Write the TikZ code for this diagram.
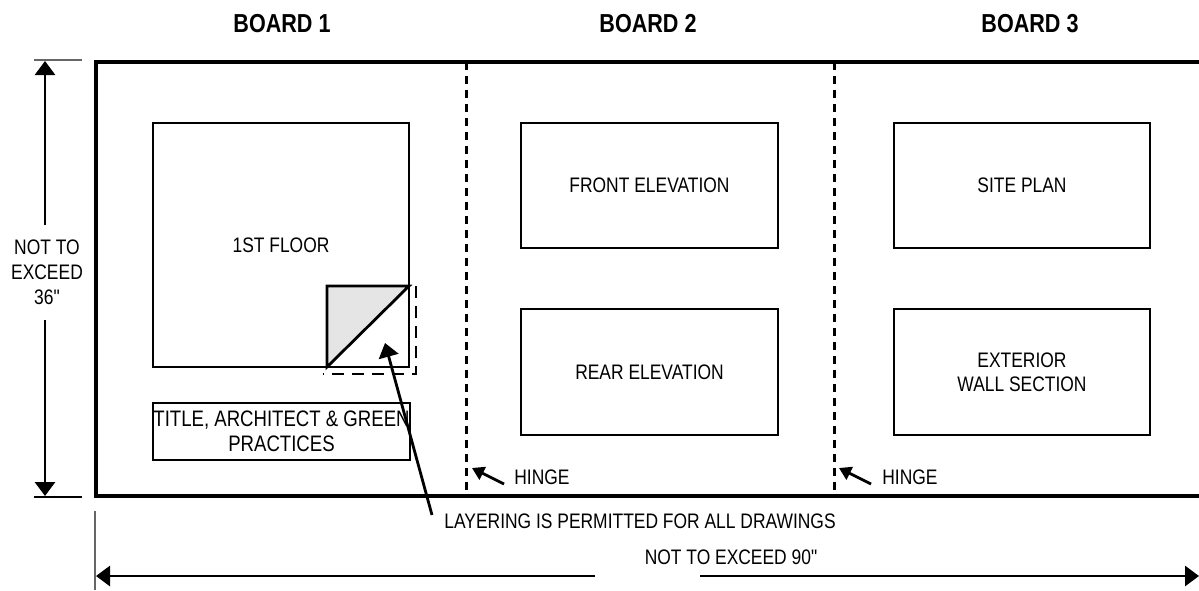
\documentclass[tikz,border=0pt]{standalone}
\usepackage{fontspec}
\setmainfont[FakeStretch=0.83,Ligatures=TeXOff]{Liberation Sans}
\usepackage{tikz}
\usetikzlibrary{arrows.meta}
\tikzset{>={Triangle[width=10pt,length=7pt]}}
\tikzset{
	panel/.style={draw,line width=1.4pt,inner sep=0pt,align=center,font=\fontsize{10.5}{12}\selectfont},
	txt/.style={inner sep=0pt,align=center,font=\fontsize{10.5}{12}\selectfont},
	head/.style={inner sep=0pt,font=\fontsize{13}{15}\selectfont\bfseries},
	hingeline/.style={line width=1.5pt,dash pattern=on 4pt off 3pt},
	smallarrow/.style={line width=1.4pt,-{Triangle[width=7pt,length=6pt]}}
}

\begin{document}
\begin{tikzpicture}[line join=miter,x=0.5pt,y=-0.5pt]
	\useasboundingbox (0,0) rectangle (1199,590);
	% board headings
	\node[head] (b1) at (282,24) {BOARD 1};
	\node[head] (b2) at (648,24) {BOARD 2};
	\node[head] (b3) at (1030,24) {BOARD 3};
	% outer board
	\draw[line width=1.6pt] (1199,62) -- (96,62) -- (96,496) -- (1199,496);
	\draw[hingeline] (466,62) -- (466,496);
	\draw[hingeline] (834,62) -- (834,496);
	% drawings
	\node[panel,minimum width=128pt,minimum height=122pt] (floor) at (281,245) {1ST FLOOR};
	\node[panel,minimum width=128.5pt,minimum height=28.5pt,font=\fontsize{11.2}{12.5}\selectfont] (title) at (281.5,431.5) {TITLE, ARCHITECT \& GREEN\\PRACTICES};
	\node[panel,minimum width=128.5pt,minimum height=62.5pt] (front) at (649.5,185.5) {FRONT ELEVATION};
	\node[panel,minimum width=128.5pt,minimum height=63pt] (rear) at (649.5,372) {REAR ELEVATION};
	\node[panel,minimum width=128pt,minimum height=62.5pt] (site) at (1022,185.5) {SITE PLAN};
	\node[panel,minimum width=128pt,minimum height=63pt] (wall) at (1022,372) {EXTERIOR\\WALL SECTION};
	% layered sheet
	\fill[black!10] (327,286) -- (409,286) -- (327,367) -- cycle;
	\draw[line width=1.4pt] (327,367) -- (327,286) -- (409,286) -- cycle;
	\draw[line width=1.4pt,dash pattern=on 6pt off 4pt] (416,286) -- (416,374) -- (323,374);
	% notes
	\node[txt,anchor=west] (layering) at (444,521) {LAYERING IS PERMITTED FOR ALL DRAWINGS};
	\coordinate (lay tip) at (385,343);
	\coordinate (lay tail) at (432,515);
	\draw[line width=1.4pt,->] (lay tail) -- (lay tip);
	\node[txt,anchor=west] (hinge1) at (514,477) {HINGE};
	\node[txt,anchor=west] (hinge2) at (882,477) {HINGE};
	\coordinate (h1 tail) at (504,484);
	\coordinate (h1 tip) at (472,468);
	\coordinate (h2 tail) at (871,484);
	\coordinate (h2 tip) at (839,468);
	\draw[smallarrow] (h1 tail) -- (h1 tip);
	\draw[smallarrow] (h2 tail) -- (h2 tip);
	% height dimension
	\draw[black!60,line width=0.8pt] (34,60) -- (82,60);
	\draw[line width=0.8pt] (34,497) -- (82,497);
	\node[txt,font=\fontsize{10.5}{12.5}\selectfont] (height) at (47,272) {NOT TO\\EXCEED\\36"};
	\coordinate (h top) at (45,61);
	\coordinate (h bot) at (45,496);
	\draw[line width=1.4pt,->] (45,225) -- (h top);
	\draw[line width=1.4pt,->] (45,320) -- (h bot);
	% width dimension
	\draw[black!60,line width=0.8pt] (95,511) -- (95,590);
	\node[txt] (width) at (731,557) {NOT TO EXCEED 90"};
	\coordinate (w left) at (96,576);
	\coordinate (w right) at (1199,576);
	\draw[line width=1.4pt,->] (595,576) -- (w left);
	\draw[line width=1.4pt,->] (700,576) -- (w right);
\end{tikzpicture}
\end{document}
